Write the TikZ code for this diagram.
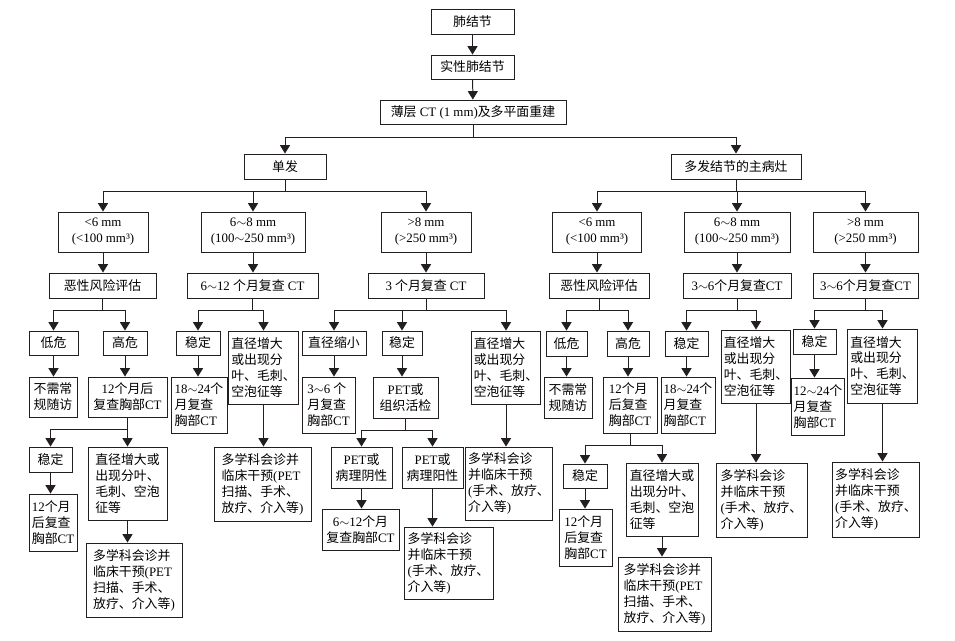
\documentclass[tikz,border=0pt]{standalone}
\usepackage{fontspec}
\setmainfont{Liberation Serif}
\newfontfamily\PoliceCJK{Noto Sans CJK SC}
%% CJK characters switch to the CJK font, everything else stays in the serif
\XeTeXinterchartokenstate=1
\chardef\classeCJK=7
\newcount\compteur
\compteur="3000
\loop \XeTeXcharclass\compteur=\classeCJK \advance\compteur by 1 \ifnum\compteur<"A000 \repeat
\compteur="FF00
\loop \XeTeXcharclass\compteur=\classeCJK \advance\compteur by 1 \ifnum\compteur<"FFF0 \repeat
\XeTeXinterchartoks 0 \classeCJK = {\PoliceCJK}
\XeTeXinterchartoks 4095 \classeCJK = {\PoliceCJK}
\XeTeXinterchartoks \classeCJK 0 = {\rmfamily}
\XeTeXinterchartoks \classeCJK 4095 = {\rmfamily}
\usepackage{xcolor}
\definecolor{traitNoir}{HTML}{231F20}
\usepackage{tikz}
\usetikzlibrary{arrows.meta}
\newcommand{\tld}{\ensuremath{\sim}}
\tikzset{
  %% ── Boxes ──
  bloc/.style    = {draw=traitNoir, line width=0.8pt, fill=white, text=black,
                    align=center, inner xsep=2pt, inner ysep=1pt,
                    font=\fontsize{11}{13.6}\selectfont},
  blocG/.style   = {bloc, align=left},
  taille/.style 2 args = {minimum width=#1*0.03cm, minimum height=#2*0.03cm},
  %% ── Arrows ──
  fleche/.style  = {-{Triangle[length=2.5mm, width=3mm]}, draw=traitNoir,
                    line width=0.85pt},
}

\begin{document}
\begin{tikzpicture}[x=0.03cm, y=-0.03cm]
\useasboundingbox (0,0) rectangle (955,640);

%% spine
\node[bloc, taille={83}{25}] (nod) at (472.5,21.5) {肺结节};
\node[bloc, taille={83}{24}] (solid) at (472.5,67) {实性肺结节};
\node[bloc, taille={186}{24}] (thin) at (473,112) {薄层 CT (1 mm)及多平面重建};
\node[bloc, taille={82}{25}] (single) at (285,166.5) {单发};
\node[bloc, taille={130}{25}] (multi) at (736,166.5) {多发结节的主病灶};

%% size classes
\node[bloc, taille={90}{40}] (u6) at (103,232) {<6 mm\\(<100 mm³)};
\node[bloc, taille={104}{40}] (u68) at (253,232) {6\tld8 mm\\(100\tld250 mm³)};
\node[bloc, taille={90}{40}] (u8) at (426,232) {>8 mm\\(>250 mm³)};
\node[bloc, taille={89}{40}] (m6) at (597,232) {<6 mm\\(<100 mm³)};
\node[bloc, taille={106}{40}] (m68) at (737,232) {6\tld8 mm\\(100\tld250 mm³)};
\node[bloc, taille={105}{40}] (m8) at (865.5,232) {>8 mm\\(>250 mm³)};

\node[bloc, taille={107}{25}] (u6r) at (102.5,285.5) {恶性风险评估};
\node[bloc, taille={131}{25}] (u68r) at (252.5,285.5) {6\tld12 个月复查 CT};
\node[bloc, taille={116}{25}] (u8r) at (426,285.5) {3 个月复查 CT};
\node[bloc, taille={100}{25}] (m6r) at (599,285.5) {恶性风险评估};
\node[bloc, taille={108}{25}] (m68r) at (737,285.5) {3\tld6个月复查CT};
\node[bloc, taille={105}{25}] (m8r) at (865.5,285.5) {3\tld6个月复查CT};

%% outcomes
\node[bloc, taille={49}{24}] (u6lo) at (53.5,343) {低危};
\node[bloc, taille={44}{24}] (u6hi) at (125,343) {高危};
\node[bloc, taille={44}{24}] (u68st) at (198,343) {稳定};
\node[blocG, taille={69}{73}] (u68gr) at (263.5,367.5)
     {直径增大\\或出现分\\叶、毛刺、\\空泡征等};
\node[bloc, taille={64}{24}] (u8dn) at (334,343) {直径缩小};
\node[bloc, taille={40}{24}] (u8st) at (402,343) {稳定};
\node[blocG, taille={68}{73}] (u8gr) at (506,367.5)
     {直径增大\\或出现分\\叶、毛刺、\\空泡征等};
\node[bloc, taille={41}{25}] (m6lo) at (566.5,343.5) {低危};
\node[bloc, taille={42}{25}] (m6hi) at (628,343.5) {高危};
\node[bloc, taille={43}{25}] (m68st) at (686.5,343.5) {稳定};
\node[blocG, taille={66}{73}] (m68gr) at (756,366.5)
     {直径增大\\或出现分\\叶、毛刺、\\空泡征等};
\node[bloc, taille={43}{25}] (m8st) at (814.5,341.5) {稳定};
\node[blocG, taille={69}{74}] (m8gr) at (882.5,366)
     {直径增大\\或出现分\\叶、毛刺、\\空泡征等};

%% follow-up
\node[bloc, taille={48}{40}] (u6no) at (53,397) {不需常\\规随访};
\node[bloc, taille={79}{40}] (u6ct) at (127.5,397) {12个月后\\复查胸部CT};
\node[blocG, taille={56}{56}] (u68ct) at (199,405) {18\tld24个\\月复查\\胸部CT};
\node[blocG, taille={53}{56}] (u8ct) at (328.5,405) {3\tld6 个\\月复查\\胸部CT};
\node[bloc, taille={65}{41}] (pet) at (405.5,397.5) {PET或\\组织活检};
\node[bloc, taille={48}{41}] (m6no) at (568,397.5) {不需常\\规随访};
\node[blocG, taille={54}{56}] (m6ct) at (630,405) {12个月\\后复查\\胸部CT};
\node[blocG, taille={54}{56}] (m68ct) at (688,405) {18\tld24个\\月复查\\胸部CT};
\node[blocG, taille={50}{57}] (m8ct) at (818,406.5) {12\tld24个\\月复查\\胸部CT};

%% second round, single nodule
\node[bloc, taille={43}{25}] (u6st2) at (50.5,459.5) {稳定};
\node[blocG, taille={79}{73}] (u6gr2) at (127.5,483.5)
     {直径增大或\\出现分叶、\\毛刺、空泡\\征等};
\node[blocG, taille={97}{74}] (u68mdt) at (262.5,484)
     {多学科会诊并\\临床干预(PET\\扫描、手术、\\放疗、介入等)};
\node[bloc, taille={61}{41}] (neg) at (361.5,467.5) {PET或\\病理阴性};
\node[bloc, taille={61}{41}] (pos) at (432.5,467.5) {PET或\\病理阳性};
\node[blocG, taille={84}{73}] (u8mdt) at (509,483.5)
     {多学科会诊\\并临床干预\\(手术、放疗、\\介入等)};
\node[blocG, taille={48}{57}] (u6ct2) at (53,522.5) {12个月\\后复查\\胸部CT};
\node[blocG, taille={96}{74}] (u6mdt) at (134,580)
     {多学科会诊并\\临床干预(PET\\扫描、手术、\\放疗、介入等)};
\node[bloc, taille={77}{41}] (negct) at (360.5,529.5) {6\tld12个月\\复查胸部CT};
\node[blocG, taille={89}{72}] (posmdt) at (448.5,563)
     {多学科会诊\\并临床干预\\(手术、放疗、\\介入等)};

%% second round, main lesion
\node[bloc, taille={44}{24}] (m6st2) at (585,476) {稳定};
\node[blocG, taille={72}{73}] (m6gr2) at (662,499.5)
     {直径增大或\\出现分叶、\\毛刺、空泡\\征等};
\node[blocG, taille={53}{57}] (m6ct2) at (585.5,537.5) {12个月\\后复查\\胸部CT};
\node[blocG, taille={93}{74}] (m6mdt) at (664.5,594)
     {多学科会诊并\\临床干预(PET\\扫描、手术、\\放疗、介入等)};
\node[blocG, taille={91}{74}] (m68mdt) at (761.5,500)
     {多学科会诊\\并临床干预\\(手术、放疗、\\介入等)};
\node[blocG, taille={84}{75}] (m8mdt) at (876,499.5)
     {多学科会诊\\并临床干预\\(手术、放疗、\\介入等)};

%% connectors
\draw[fleche] (nod) -- (solid);
\draw[fleche] (solid) -- (thin);
\draw[fleche] (thin.south) -- ++(0,13) -| (single);
\draw[fleche] (thin.south) -- ++(0,13) -| (multi);
\foreach \c in {u6,u68,u8}
  \draw[fleche] (single.south) -- ++(0,12) -| (\c);
\foreach \c in {m6,m68,m8}
  \draw[fleche] (multi.south) -- ++(0,12) -| (\c);

\foreach \p/\c in {u6/u6r, u68/u68r, u8/u8r, m6/m6r, m68/m68r, m8/m8r,
                   u6lo/u6no, u6hi/u6ct, u68st/u68ct, u68gr/u68mdt,
                   u8dn/u8ct, u8st/pet, u8gr/u8mdt,
                   m6lo/m6no, m6hi/m6ct, m68st/m68ct, m68gr/m68mdt,
                   m8st/m8ct, m8gr/m8mdt,
                   u6st2/u6ct2, u6gr2/u6mdt, neg/negct, pos/posmdt,
                   m6st2/m6ct2, m6gr2/m6mdt}
  \draw[fleche] (\p.south) -- (\p.south |- \c.north);

\foreach \p/\c in {u6r/u6lo, u6r/u6hi, u68r/u68st, u68r/u68gr,
                   u8r/u8dn, u8r/u8st, u8r/u8gr,
                   m6r/m6lo, m6r/m6hi, m68r/m68st, m68r/m68gr,
                   m8r/m8st, m8r/m8gr,
                   u6ct/u6st2, u6ct/u6gr2, pet/neg, pet/pos,
                   m6ct/m6st2, m6ct/m6gr2}
  \draw[fleche] (\p.south) -- ++(0,12) -| (\c);

\end{tikzpicture}
\end{document}
